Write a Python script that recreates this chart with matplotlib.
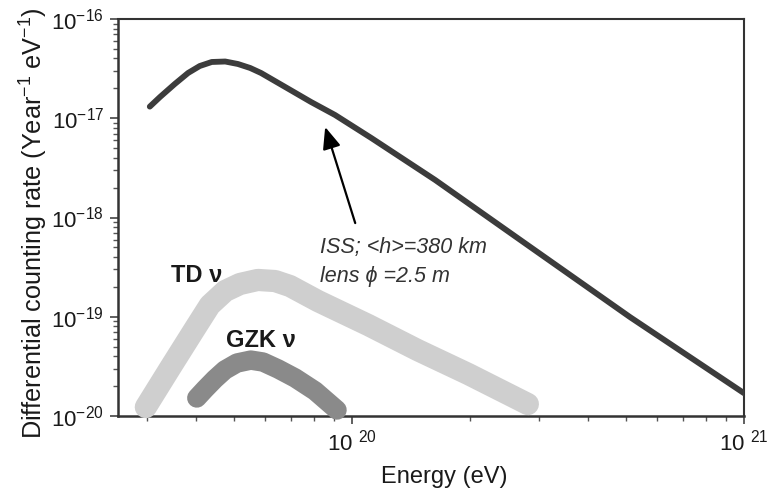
import math
import matplotlib
matplotlib.use("Agg")
from matplotlib import pyplot as plt
from matplotlib.ticker import FixedLocator, LogLocator, FuncFormatter, NullFormatter

plt.rcParams['font.family'] = ['Liberation Sans', 'DejaVu Sans']
plt.rcParams['mathtext.fontset'] = 'custom'
plt.rcParams['mathtext.rm'] = 'Liberation Sans'
plt.rcParams['mathtext.it'] = 'Liberation Sans:italic'

# ISS detector counting rate
iss_energy = [3.05e19, 3.24e19, 3.53e19, 3.82e19, 4.09e19, 4.39e19, 4.75e19, 5.12e19,
              5.50e19, 5.86e19, 6.75e19, 7.86e19, 9.05e19, 1.12e20, 1.63e20, 2.85e20,
              5.12e20, 1.0e21]
iss_rate = [1.31e-17, 1.64e-17, 2.21e-17, 2.86e-17, 3.36e-17, 3.69e-17, 3.73e-17, 3.52e-17,
            3.21e-17, 2.86e-17, 2.07e-17, 1.46e-17, 1.08e-17, 6.33e-18, 2.39e-18, 5.05e-19,
            9.93e-20, 1.70e-20]

# TD neutrino band
td_energy = [2.98e19, 3.45e19, 3.97e19, 4.34e19, 4.75e19, 5.18e19, 5.75e19, 6.37e19,
             6.95e19, 8.19e19, 1.10e20, 1.47e20, 1.98e20, 2.81e20]
td_rate = [1.23e-20, 3.12e-20, 7.53e-20, 1.31e-19, 1.82e-19, 2.14e-19, 2.35e-19, 2.29e-19,
           2.04e-19, 1.44e-19, 8.26e-20, 4.62e-20, 2.65e-20, 1.32e-20]

# GZK neutrino band
gzk_energy = [4.02e19, 4.22e19, 4.47e19, 4.74e19, 5.09e19, 5.52e19, 5.93e19, 6.48e19,
              7.16e19, 8.05e19, 9.16e19]
gzk_rate = [1.52e-20, 1.87e-20, 2.36e-20, 2.91e-20, 3.42e-20, 3.66e-20, 3.50e-20, 2.98e-20,
            2.42e-20, 1.79e-20, 1.15e-20]

# axis ticks
x_major = [1e20, 1e21]
y_major = [1e-20, 1e-19, 1e-18, 1e-17, 1e-16]

fig = plt.figure(figsize=(7.7, 4.91), dpi=100)
ax = fig.add_axes([0.1532, 0.1527, 0.813, 0.8086])
ax.set_xscale('log')
ax.set_yscale('log')
ax.set_xlim(2.53e19, 1e21)
ax.set_ylim(1e-20, 1e-16)

ax.plot(td_energy, td_rate, color='#cfcfcf', lw=16, solid_capstyle='round',
        solid_joinstyle='round', clip_on=False, zorder=3)
ax.plot(gzk_energy, gzk_rate, color='#8a8a8a', lw=14, solid_capstyle='round',
        solid_joinstyle='round', clip_on=False, zorder=3)
ax.plot(iss_energy, iss_rate, color='#3c3c3c', lw=4.2, solid_capstyle='round',
        solid_joinstyle='round', zorder=4)

# labels on the plot
ax.text(0.125, 0.353, 'TD ν', transform=ax.transAxes, fontsize=17, fontweight='bold',
        color='#1a1a1a', ha='center', va='center')
ax.text(0.228, 0.191, 'GZK ν', transform=ax.transAxes, fontsize=17, fontweight='bold',
        color='#1a1a1a', ha='center', va='center')
ax.text(0.323, 0.411, 'ISS; <h>=380 km', transform=ax.transAxes, fontsize=15.5,
        style='italic', color='#333333', ha='left', va='baseline')
ax.text(0.323, 0.3375, 'lens ϕ =2.5 m', transform=ax.transAxes, fontsize=15.5,
        style='italic', color='#333333', ha='left', va='baseline')
ax.annotate('', xy=(0.331, 0.728), xytext=(0.379, 0.486),
            xycoords='axes fraction', textcoords='axes fraction',
            arrowprops=dict(arrowstyle='-|>,head_length=0.6,head_width=0.25',
                            color='black', lw=1.6, mutation_scale=22,
                            shrinkA=0, shrinkB=0))

# axes styling
for side in ['left', 'right', 'top', 'bottom']:
    ax.spines[side].set_color('#333333')
ax.spines['left'].set_linewidth(1.8)
ax.spines['bottom'].set_linewidth(1.8)
ax.spines['top'].set_linewidth(1.5)
ax.spines['right'].set_linewidth(1.5)

ax.xaxis.set_major_locator(FixedLocator(x_major))
ax.yaxis.set_major_locator(FixedLocator(y_major))
ax.xaxis.set_minor_locator(LogLocator(base=10, subs=range(2, 10), numticks=20))
ax.yaxis.set_minor_locator(LogLocator(base=10, subs=range(2, 10), numticks=20))
ax.xaxis.set_major_formatter(FuncFormatter(lambda v, p: '10 $^{%d}$' % round(math.log10(v))))
ax.yaxis.set_major_formatter(FuncFormatter(lambda v, p: '10$^{%d}$' % round(math.log10(v))))
ax.xaxis.set_minor_formatter(NullFormatter())
ax.yaxis.set_minor_formatter(NullFormatter())

ax.tick_params(which='major', direction='out', length=6, width=1.2, color='#444444',
               labelsize=16, labelcolor='#1a1a1a', pad=4)
ax.tick_params(which='minor', direction='out', length=3.5, width=1.0, color='#555555')
ax.tick_params(top=False, right=False)

ax.set_xlabel('Energy (eV)', fontsize=17, color='#1a1a1a', labelpad=7)
ax.xaxis.label.set_x(0.522)
ax.set_ylabel('Differential counting rate (Year$^{-1}$ eV$^{-1}$)', fontsize=18.2,
              color='#1a1a1a', labelpad=1)
ax.yaxis.label.set_y(0.486)

fig.savefig('out.png', dpi=100)
